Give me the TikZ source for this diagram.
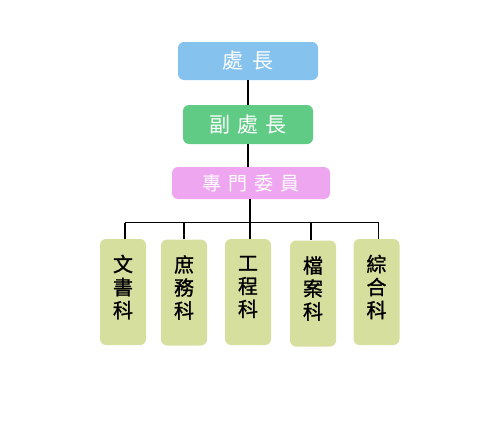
\documentclass[tikz,border=0pt]{standalone}
\usepackage{fontspec}
\newfontfamily\cjk{Noto Sans CJK TC}
\newfontfamily\cjkb[FakeBold=1.2]{Noto Sans CJK TC}
\definecolor{cblue}{HTML}{85C3EE}
\definecolor{cgreen}{HTML}{5FCB85}
\definecolor{cpink}{HTML}{EFA6F1}
\definecolor{colive}{HTML}{D7DF9E}
\begin{document}
\begin{tikzpicture}[x=1pt,y=-1pt,
  topbox/.style={rounded corners=6pt, text=white, font=\cjk\fontsize{21}{24}\selectfont, inner sep=0pt, anchor=center},
  unitbox/.style={rounded corners=6pt, fill=colive, minimum width=46pt, minimum height=106pt, inner sep=0pt},
  unittext/.style={inner sep=0pt, font=\cjkb\fontsize{20}{23}\selectfont, align=center, text=black},
  link/.style={line width=1.3pt, black}]
\useasboundingbox (0,0) rectangle (500,439);
\node[topbox, fill=cblue, minimum width=140pt, minimum height=38pt] (chief) at (248,61) {處\hspace{10pt}長};
\node[topbox, fill=cgreen, minimum width=130pt, minimum height=39pt] (deputy) at (248,124.5) {副\hspace{7pt}處\hspace{7pt}長};
\node[topbox, fill=cpink, minimum width=158pt, minimum height=32pt, font=\cjk\fontsize{19}{22}\selectfont] (comm) at (251,183) {專\hspace{7pt}門\hspace{7pt}委\hspace{7pt}員};
\node[unitbox] (u1) at (123,292) {};
\node[unitbox] (u2) at (184,292.5) {};
\node[unitbox] (u3) at (248,292) {};
\node[unitbox] (u4) at (313,293.5) {};
\node[unitbox] (u5) at (376.5,292) {};
\node[unittext] (t1) at ([yshift=5pt]u1.center) {文\\書\\科};
\node[unittext] (t2) at ([yshift=5pt]u2.center) {庶\\務\\科};
\node[unittext] (t3) at ([yshift=5pt]u3.center) {工\\程\\科};
\node[unittext] (t4) at ([yshift=5pt]u4.center) {檔\\案\\科};
\node[unittext] (t5) at ([yshift=5pt]u5.center) {綜\\合\\科};
\coordinate (bus) at (250,222.5);
\draw[link] (chief.south) -- (deputy.north);
\draw[link] (deputy.south) -- (deputy.south |- comm.north);
\draw[link] ([xshift=-1pt]comm.south) -- ([xshift=-1pt]comm.south |- u3.north);
\draw[link] (u1.north |- bus) ++(2pt,0) coordinate (bl) -- (bl |- u1.north);
\draw[link] (bl) -| ([xshift=2pt]u5.north);
\draw[link] (u2.north |- bus) -- (u2.north);
\draw[link] ([xshift=-2pt]u4.north |- bus) -- ([xshift=-2pt]u4.north);
\end{tikzpicture}
\end{document}
